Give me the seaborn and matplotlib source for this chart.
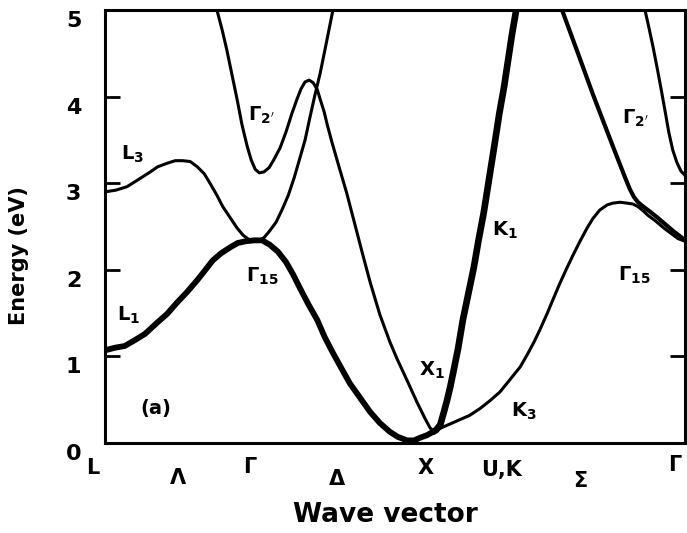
import matplotlib
matplotlib.use("Agg")
import matplotlib.pyplot as plt
import matplotlib.transforms as mtransforms
import pandas as pd
import seaborn as sns

# Band energies (eV) along the path L - Gamma - X - U,K - Gamma.
# k runs from 0 (L) to 1 (Gamma at the right edge); Gamma at 0.264, X at 0.566.
l3_k = [0.0, 0.019, 0.038, 0.057, 0.078, 0.091, 0.107, 0.121, 0.134, 0.147,
        0.159, 0.171, 0.181, 0.193, 0.203, 0.216, 0.228, 0.238, 0.250, 0.264]
l3_e = [2.90, 2.92, 2.96, 3.04, 3.13, 3.19, 3.23, 3.26, 3.26, 3.25,
        3.19, 3.11, 3.00, 2.86, 2.73, 2.60, 2.48, 2.40, 2.34, 2.33]

delta_up_k = [0.264, 0.274, 0.284, 0.295, 0.305, 0.316, 0.326, 0.336, 0.345,
              0.353, 0.362, 0.371, 0.381, 0.393]
delta_up_e = [2.33, 2.37, 2.45, 2.55, 2.69, 2.86, 3.06, 3.29, 3.50,
              3.75, 4.02, 4.27, 4.60, 5.00]

g2_k = [0.193, 0.202, 0.210, 0.219, 0.228, 0.236, 0.245, 0.252, 0.259, 0.266,
        0.274, 0.283, 0.291, 0.302, 0.312, 0.322, 0.331, 0.338, 0.345, 0.352,
        0.359, 0.366, 0.371, 0.378, 0.383, 0.391, 0.400, 0.417, 0.431, 0.445,
        0.457, 0.474, 0.491, 0.503, 0.521, 0.538, 0.552, 0.560, 0.566]
g2_e = [5.00, 4.77, 4.54, 4.25, 3.96, 3.68, 3.43, 3.27, 3.16, 3.12,
        3.13, 3.18, 3.27, 3.41, 3.59, 3.80, 3.97, 4.09, 4.17, 4.19,
        4.16, 4.08, 3.97, 3.82, 3.68, 3.48, 3.27, 2.88, 2.52, 2.16,
        1.86, 1.48, 1.17, 0.98, 0.72, 0.47, 0.28, 0.18, 0.13]

l1_k = [0.0, 0.017, 0.034, 0.052, 0.069, 0.090, 0.107, 0.124, 0.141, 0.159,
        0.172, 0.186, 0.200, 0.216, 0.229, 0.243, 0.257, 0.271, 0.284, 0.298,
        0.312, 0.324, 0.336, 0.350, 0.366, 0.379, 0.393, 0.407, 0.422, 0.440,
        0.457, 0.474, 0.491, 0.505, 0.521, 0.533, 0.543, 0.555, 0.566]
l1_e = [1.07, 1.10, 1.12, 1.19, 1.26, 1.39, 1.49, 1.62, 1.74, 1.88,
        1.99, 2.11, 2.19, 2.26, 2.31, 2.33, 2.34, 2.34, 2.29, 2.21,
        2.09, 1.95, 1.79, 1.61, 1.42, 1.22, 1.04, 0.87, 0.69, 0.52,
        0.36, 0.23, 0.13, 0.07, 0.03, 0.03, 0.06, 0.09, 0.13]

k1_k = [0.566, 0.571, 0.578, 0.584, 0.590, 0.595, 0.600, 0.609, 0.617, 0.636,
        0.644, 0.653, 0.662, 0.671, 0.680, 0.688, 0.695, 0.702, 0.709]
k1_e = [0.13, 0.15, 0.21, 0.35, 0.50, 0.64, 0.80, 1.10, 1.42, 2.03,
        2.34, 2.66, 3.04, 3.42, 3.81, 4.11, 4.42, 4.73, 5.00]

k3_k = [0.566, 0.578, 0.595, 0.612, 0.629, 0.647, 0.664, 0.681, 0.698, 0.716,
        0.728, 0.740, 0.750, 0.762, 0.772, 0.784, 0.797, 0.807, 0.819, 0.831,
        0.841, 0.853, 0.866, 0.876, 0.888, 0.900, 0.910, 0.919, 0.928, 0.936,
        0.950, 0.964, 0.978, 0.988, 1.0]
k3_e = [0.13, 0.17, 0.22, 0.27, 0.32, 0.40, 0.49, 0.59, 0.73, 0.88,
        1.02, 1.17, 1.31, 1.49, 1.65, 1.84, 2.03, 2.17, 2.33, 2.48,
        2.59, 2.69, 2.75, 2.77, 2.78, 2.77, 2.76, 2.73, 2.68, 2.63,
        2.56, 2.48, 2.41, 2.36, 2.33]

sigma_k = [0.788, 0.816, 0.841, 0.876, 0.897, 0.905, 0.912, 0.919, 0.928, 0.940,
           0.953, 0.967, 0.981, 0.991, 1.0]
sigma_e = [5.00, 4.49, 4.03, 3.42, 3.06, 2.93, 2.84, 2.78, 2.73, 2.67,
           2.60, 2.52, 2.44, 2.39, 2.34]

g2r_k = [0.931, 0.938, 0.945, 0.952, 0.959, 0.966, 0.972, 0.979, 0.986, 0.993, 1.0]
g2r_e = [5.00, 4.79, 4.57, 4.33, 4.08, 3.82, 3.59, 3.38, 3.24, 3.14, 3.09]

bands = {
    "L3": (l3_k, l3_e, 2.2),
    "Delta_up": (delta_up_k, delta_up_e, 2.2),
    "Gamma2": (g2_k, g2_e, 2.2),
    "L1": (l1_k, l1_e, 4.2),
    "K1": (k1_k, k1_e, 4.8),
    "K3": (k3_k, k3_e, 2.2),
    "Sigma": (sigma_k, sigma_e, 3.0),
    "Gamma2_right": (g2r_k, g2r_e, 2.2),
}

# Point labels inside the plot: (text, k, E)
point_labels = [
    (r"$\mathbf{L_3}$", 0.047, 3.33),
    (r"$\mathbf{\Gamma_{2'}}$", 0.269, 3.78),
    (r"$\mathbf{\Gamma_{15}}$", 0.271, 1.93),
    (r"$\mathbf{L_1}$", 0.041, 1.47),
    ("(a)", 0.088, 0.40),
    (r"$\mathbf{X_1}$", 0.564, 0.84),
    (r"$\mathbf{K_3}$", 0.722, 0.36),
    (r"$\mathbf{K_1}$", 0.690, 2.45),
    (r"$\mathbf{\Gamma_{2'}}$", 0.914, 3.75),
    (r"$\mathbf{\Gamma_{15}}$", 0.912, 1.94),
]

# Wave-vector path labels below the axis: (text, k, axes-fraction y)
path_labels = ["L", "Λ", "Γ", "Δ", "X", "U,K", "Σ", "Γ"]
path_k = [-0.021, 0.126, 0.250, 0.400, 0.552, 0.684, 0.819, 0.983]
path_y = [-0.058, -0.081, -0.055, -0.083, -0.058, -0.062, -0.088, -0.051]

energy_ticks = [0, 1, 2, 3, 4, 5]

frames = []
for name, (ks, es, _) in bands.items():
    frames.append(pd.DataFrame({"band": name, "k": ks, "E": es}))
df = pd.concat(frames, ignore_index=True)

sns.set_theme(style="white", rc={
    "axes.edgecolor": "black", "text.color": "black", "axes.labelcolor": "black",
    "xtick.color": "black", "ytick.color": "black",
})
plt.rcParams["font.family"] = ["DejaVu Sans"]
plt.rcParams["mathtext.fontset"] = "dejavusans"

fig = plt.figure(figsize=(6.87, 5.33), dpi=100)
ax = fig.add_axes([105 / 687, 1 - 443 / 533, 580 / 687, 433 / 533])

for name, (_, _, lw) in bands.items():
    sns.lineplot(data=df[df["band"] == name], x="k", y="E", estimator=None,
                 sort=False, color="black", linewidth=lw, ax=ax, legend=False,
                 solid_capstyle="round", solid_joinstyle="round")

ax.set_xlim(0, 1)
ax.set_ylim(0, 5)

for s in ax.spines.values():
    s.set_visible(True)
    s.set_linewidth(2.2)
    s.set_color("black")

ax.set_yticks(energy_ticks)
ax.set_yticklabels([str(t) for t in energy_ticks])
ax.tick_params(axis="y", which="both", direction="in", length=11, width=2.0,
               left=True, right=True, labelsize=16, pad=17)
ax.tick_params(axis="x", bottom=False, labelbottom=False)
shift = mtransforms.ScaledTranslation(0, -9 / 100, fig.dpi_scale_trans)
for lab in ax.get_yticklabels():
    lab.set_fontweight("bold")
    lab.set_transform(lab.get_transform() + shift)

ax.set_xlabel("Wave vector", fontsize=19, fontweight="bold")
ax.xaxis.set_label_coords(0.483, -0.166)
ax.xaxis.label.set_va("center")
ax.set_ylabel("Energy (eV)", fontsize=15, fontweight="bold")
ax.yaxis.set_label_coords(-0.148, 0.434)
ax.yaxis.label.set_va("center")

for text, k, e in point_labels:
    ax.text(k, e, text, fontsize=14, fontweight="bold", ha="center", va="center")

trans = mtransforms.blended_transform_factory(ax.transData, ax.transAxes)
for text, k, y in zip(path_labels, path_k, path_y):
    ax.text(k, y, text, transform=trans, fontsize=15, fontweight="bold",
            ha="center", va="center", clip_on=False)

fig.savefig("out.png", dpi=100)
